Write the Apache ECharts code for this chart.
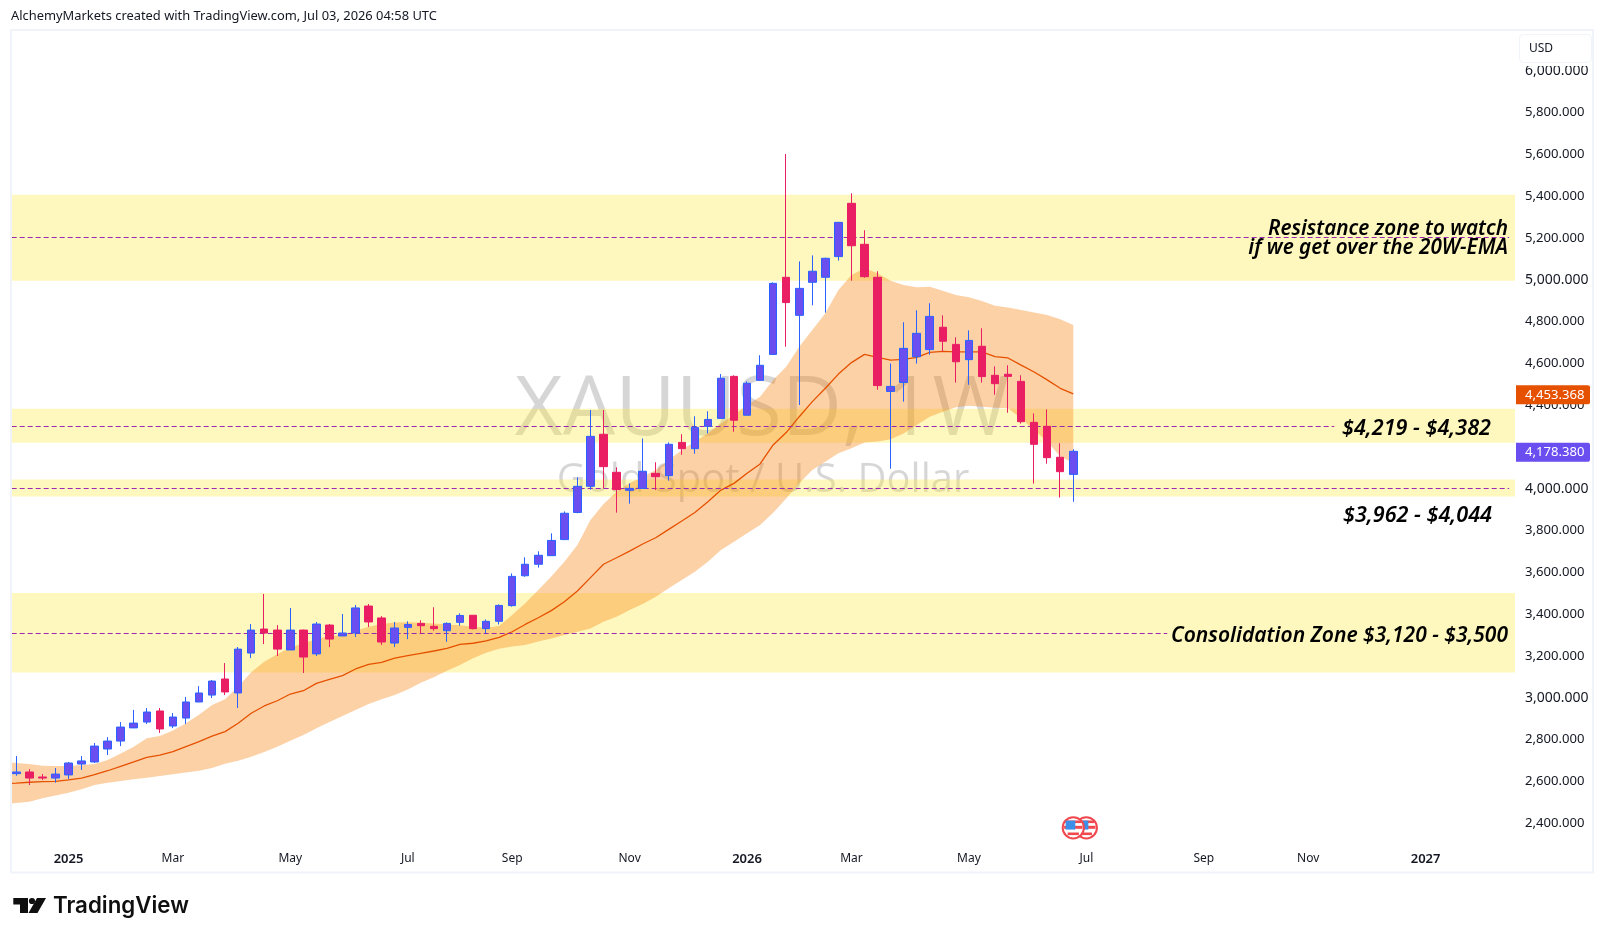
<!DOCTYPE html>
<html>
<head>
<meta charset="utf-8">
<title>XAUUSD weekly</title>
<script src="https://cdn.jsdelivr.net/npm/echarts@6/dist/echarts.min.js"></script>
<style>html,body{margin:0;padding:0;background:#fff}#chart{width:1605px;height:939px}</style>
</head>
<body>
<div id="chart"></div>
<script>
// Weekly candles, one entry per week
const open = [2636,2644,2620,2615,2630,2682,2692,2754,2792,2855,2883,2936,2864,2902,2979,3012,3089,3022,3213,3328,3323,3228,3323,3209,3347,3295,3309,3438,3381,3261,
  3336,3355,3341,3320,3360,3394,3330,3365,3440,3583,3638,3679,3756,3886,4011,4260,4078,3992,4001,4073,4062,4221,4191,4298,
  4336,4537,4351,4518,4642,5011,4829,4987,5011,5110,5365,5169,5011,4465,4508,4631,4665,4772,4690,4617,4681,4542,4547,4513,4317,4298,4150,4068];
const close = [2644,2615,2615,2634,2687,2697,2768,2792,2859,2878,2931,2850,2907,2979,3022,3079,3027,3232,3323,3309,3232,3323,3194,3352,3280,3309,3429,3362,3266,3333,
  3350,3344,3330,3355,3393,3330,3365,3441,3580,3638,3681,3752,3882,4011,4250,4105,3995,4001,4083,4057,4212,4191,4293,4331,
  4528,4327,4504,4590,4982,4890,4958,5040,5102,5274,5162,5014,4493,4489,4671,4743,4824,4705,4607,4709,4536,4502,4537,4320,4212,4148,4081,4178.38];
const low = [2626,2582,2606,2593,2610,2654,2687,2725,2768,2854,2874,2831,2854,2874,2979,2998,3012,2950,3189,3256,3199,3228,3118,3199,3242,3295,3290,3338,3252,3242,
  3280,3307,3320,3267,3344,3326,3307,3350,3435,3578,3622,3679,3755,3882,3995,4001,3885,3928,4001,3993,4038,4162,4167,4264,
  4336,4272,4351,4518,4642,4679,4400,4877,4842,5091,4995,5009,4473,4095,4416,4598,4641,4657,4507,4497,4507,4449,4363,4311,4024,4119,3957,3937];
const high = [2720,2658,2634,2663,2692,2720,2783,2811,2883,2941,2950,2950,2926,3003,3055,3084,3165,3242,3352,3496,3347,3429,3325,3362,3352,3400,3443,3448,3390,3362,
  3365,3370,3432,3360,3403,3394,3374,3446,3594,3671,3700,3786,3891,4054,4376,4376,4102,4025,4240,4126,4221,4260,4346,4370,
  4548,4542,4513,4638,4987,5601,5087,5116,5105,5274,5413,5236,5040,4599,4796,4853,4887,4829,4724,4757,4767,4585,4590,4542,4360,4379,4217,4188];

// 20-week EMA and its envelope, starting one week before the first candle
const emaMid = [2588,2591,2595,2598,2599,2606,2615,2631,2650,2671,2692,2714,2725,2741,2765,2789,2816,2837,2877,2925,2960,2985,3017,3033,3068,3087,3105,3137,3159,3169,3189,
  3201,3212,3223,3236,3255,3260,3271,3288,3315,3350,3382,3416,3459,3510,3574,3638,3669,3701,3735,3765,3805,3845,3886,
  3937,3993,4025,4073,4118,4209,4268,4344,4416,4480,4548,4603,4642,4628,4615,4618,4628,4652,4657,4654,4654,4654,4631,4625,4591,4558,4520,4480,4453.368];
const emaUpper = [2693,2687,2682,2674,2673,2673,2677,2682,2701,2733,2765,2805,2816,2842,2877,2918,2965,2992,3052,3121,3172,3207,3240,3260,3279,3295,3300,3320,3339,3352,3359,
  3360,3358,3355,3350,3346,3339,3334,3342,3395,3451,3515,3579,3650,3730,3850,3926,3985,4025,4057,4089,4137,4185,4225,
  4264,4312,4352,4400,4440,4520,4583,4679,4759,4839,4950,5022,5054,5030,4995,4974,4963,4966,4947,4926,4915,4898,4875,4866,4855,4843,4831,4810,4783];
const emaLower = [2488,2496,2502,2518,2531,2545,2561,2582,2593,2601,2609,2617,2625,2633,2641,2650,2663,2684,2698,2717,2740,2765,2794,2821,2853,2883,2912,2941,2969,2992,3012,
  3039,3071,3097,3129,3156,3188,3215,3234,3244,3252,3268,3283,3299,3315,3331,3363,3387,3419,3448,3483,3523,3563,3602,
  3650,3706,3746,3786,3826,3885,3953,4025,4089,4129,4169,4193,4220,4225,4236,4264,4304,4344,4368,4389,4397,4392,4387,4384,4336,4280,4225,4153,4124];

// Price zones and the dashed level drawn through each
const zoneBottoms = [4995, 4219, 3962, 3120];
const zoneTops = [5406, 4382, 4044, 3500];
const zoneLevels = [5201.5, 4297, 4000, 3306.7];
const zoneLevelEnds = [114.4, 101, 114.4, 88.2];

// Axis ticks
const priceTicks = [2400,2600,2800,3000,3200,3400,3600,3800,4000,4400,4600,4800,5000,5200,5400,5600,5800,6000];
const majorPrices = [3000, 4000, 5000, 6000];
const timeTickWeeks = [4,12,21,30,38,47,56,64,73,82,91,99,108];
const timeTickLabels = ['2025','Mar','May','Jul','Sep','Nov','2026','Mar','May','Jul','Sep','Nov','2027'];
const yearLabels = ['2025','2026','2027'];

// Last-value tags on the price scale
const lastEma = 4453.368;
const lastClose = 4178.38;
// Economic-calendar markers
const eventWeeks = [82, 81];
const eventPrice = 2377;

// Chart notes: text, right edge, vertical centre, size
const annotations = [
  ['Resistance zone to watch', 1508, 229, 20.7],
  ['if we get over the 20W-EMA', 1508, 248.5, 20.7],
  ['$4,219 - $4,382', 1491, 429, 21.6],
  ['$3,962 - $4,044', 1492, 515.5, 21.6],
  ['Consolidation Zone $3,120 - $3,500', 1508, 636, 21]
];

const weekMin = -0.355, weekMax = 114.85;
const priceMin = 2294.7, priceMax = 6194.3;
const uiFont = '"Noto Sans", sans-serif';
const noteFont = '"Noto Sans", "Open Sans", sans-serif';

const candles = open.map((o, i) => [i, o, close[i], low[i], high[i]]);
const emaPoints = emaMid.map((v, i) => [i - 1, v]);
const fmtPrice = v => v.toLocaleString('en-US', {minimumFractionDigits: 3, maximumFractionDigits: 3});

const chart = echarts.init(document.getElementById('chart'), null, {renderer: 'canvas'});

// Fills the EMA envelope as one polygon through the axis scales
function renderCloud(params, api) {
  if (params.dataIndex !== emaUpper.length - 1) return null;
  const pts = [];
  emaUpper.forEach((v, i) => pts.push(api.coord([i - 1, v])));
  for (let i = emaLower.length - 1; i >= 0; i--) pts.push(api.coord([i - 1, emaLower[i]]));
  return {type: 'polygon', shape: {points: pts}, style: {fill: 'rgba(245,124,0,0.35)'}};
}

// Coloured tag on the price scale at a series' last value
function renderTag(params, api) {
  const p = api.coord([weekMax, api.value(0)]);
  const color = params.dataIndex === 0 ? '#E65100' : '#6B4EEF';
  return {type: 'group', children: [
    {type: 'rect', shape: {x: p[0] + 1, y: p[1] - 8.5, width: 74, height: 19, r: [0, 2, 2, 0]}, style: {fill: color}},
    {type: 'text', style: {x: p[0] + 10, y: p[1] + 1, text: fmtPrice(api.value(0)), fill: '#fff', font: '13.1px ' + uiFont, verticalAlign: 'middle', textAlign: 'left'}}
  ]};
}

// Small round flag marking a calendar event
function renderEvent(params, api) {
  const p = api.coord([api.value(0), api.value(1)]);
  const r = 9.2;
  const chord = d => Math.sqrt(r * r - d * d);
  const stripe = (d, h) => ({type: 'rect', shape: {x: -chord(d + h / 2), y: d - h / 2, width: 2 * chord(d + h / 2), height: h}, style: {fill: '#F0484E'}});
  return {type: 'group', x: p[0], y: p[1], children: [
    {type: 'circle', shape: {cx: 0, cy: 0, r: 10.6}, style: {fill: '#fff', stroke: '#F0484E', lineWidth: 2}},
    stripe(-6, 2.6), stripe(-0.5, 3), stripe(6, 2.6),
    {type: 'rect', shape: {x: -7.6, y: -7.2, width: 9.6, height: 9}, style: {fill: '#3B8FE8'}}
  ]};
}

const gfx = [
  // Symbol watermark behind everything
  {type: 'text', z: 0, x: 762, y: 411, style: {text: 'XAUUSD, 1W', font: '83px "Open Sans", sans-serif', fill: 'rgba(0,0,0,0.16)', textAlign: 'center', textVerticalAlign: 'middle'}},
  {type: 'text', z: 0, x: 763, y: 481, style: {text: 'Gold Spot / U.S. Dollar', font: '40px "Open Sans", sans-serif', fill: 'rgba(0,0,0,0.16)', textAlign: 'center', textVerticalAlign: 'middle'}},
  // Header line
  {type: 'text', z: 60, x: 11, y: 16, style: {text: 'AlchemyMarkets created with TradingView.com, Jul 03, 2026 04:58 UTC', font: '12.9px ' + uiFont, fill: '#131722', textVerticalAlign: 'middle'}},
  // Pane frame
  {type: 'rect', z: 60, shape: {x: 11, y: 30, width: 1582, height: 842.5}, style: {fill: 'none', stroke: '#F0F3FA', lineWidth: 2}},
  // Currency button over the scale
  {type: 'rect', z: 55, shape: {x: 1517, y: 32, width: 75, height: 34}, style: {fill: '#fff'}},
  {type: 'rect', z: 56, shape: {x: 1519.5, y: 34.5, width: 72, height: 28, r: 4}, style: {fill: '#fff', stroke: '#F0F3FA', lineWidth: 1}},
  {type: 'text', z: 57, x: 1529, y: 48.5, style: {text: 'USD', font: '12px ' + uiFont, fill: '#131722', textVerticalAlign: 'middle'}},
  // Brand mark and wordmark
  {type: 'polygon', z: 60, shape: {points: [[13.3, 898], [28, 898], [28, 913], [20, 913], [20, 904.5], [13.3, 904.5]]}, style: {fill: '#0F0F0F'}},
  {type: 'circle', z: 60, shape: {cx: 32, cy: 901, r: 3.1}, style: {fill: '#0F0F0F'}},
  {type: 'polygon', z: 60, shape: {points: [[37, 898], [46, 898], [37.5, 913], [28.5, 913]]}, style: {fill: '#0F0F0F'}},
  {type: 'text', z: 60, x: 53, y: 906, style: {text: 'TradingView', font: '600 22.3px Inter, sans-serif', fill: '#0F0F0F', textVerticalAlign: 'middle'}}
];
annotations.forEach(a => gfx.push({type: 'text', z: 50, x: a[1], y: a[2], style: {
  text: a[0], font: 'italic 600 ' + a[3] + 'px ' + noteFont, fill: '#000', textAlign: 'right', textVerticalAlign: 'middle'
}}));

chart.setOption({
  animation: false,
  grid: {left: 11.67, top: 30, width: 1503.33, height: 815, containLabel: false},
  xAxis: {
    type: 'value', min: weekMin, max: weekMax,
    axisLine: {show: false}, axisTick: {show: false}, splitLine: {show: false},
    axisLabel: {
      customValues: timeTickWeeks, margin: 8, color: '#131722', fontFamily: uiFont, fontSize: 12,
      formatter: v => {
        const t = timeTickLabels[timeTickWeeks.indexOf(v)];
        return yearLabels.includes(t) ? '{y|' + t + '}' : t;
      },
      rich: {y: {fontWeight: 600, fontSize: 13, color: '#131722', fontFamily: uiFont}}
    }
  },
  yAxis: {
    type: 'value', position: 'right', min: priceMin, max: priceMax, scale: true,
    axisLine: {show: false}, axisTick: {show: false}, splitLine: {show: false},
    axisLabel: {
      customValues: priceTicks, margin: 10, color: '#131722', fontFamily: uiFont, fontSize: 13.1, align: 'left',
      formatter: v => majorPrices.includes(v) ? '{m|' + fmtPrice(v) + '}' : fmtPrice(v),
      rich: {m: {fontSize: 14, color: '#131722', fontFamily: uiFont}}
    }
  },
  graphic: {elements: gfx},
  series: [
    {
      name: 'zones', type: 'line', z: 1, data: [], silent: true,
      markArea: {
        silent: true, itemStyle: {color: 'rgba(255,235,59,0.33)'},
        data: zoneBottoms.map((b, i) => [{xAxis: weekMin, yAxis: b}, {xAxis: weekMax, yAxis: zoneTops[i]}])
      }
    },
    {
      name: 'EMA envelope', type: 'custom', z: 2, clip: true, silent: true,
      data: emaUpper.map((v, i) => [i - 1, v]), encode: {x: 0, y: 1}, renderItem: renderCloud
    },
    {
      name: 'levels', type: 'line', z: 3, data: [], silent: true,
      markLine: {
        silent: true, symbol: 'none', label: {show: false},
        lineStyle: {color: '#9C27B0', type: [5, 3], width: 1},
        data: zoneLevels.map((v, i) => [{xAxis: weekMin, yAxis: v}, {xAxis: zoneLevelEnds[i], yAxis: v}])
      }
    },
    {
      name: 'EMA 20', type: 'line', z: 4, data: emaPoints, showSymbol: false, silent: true,
      lineStyle: {color: '#E65100', width: 1.3}
    },
    {
      name: 'XAUUSD', type: 'candlestick', z: 5, data: candles, encode: {x: 0, y: [1, 2, 3, 4]},
      barWidth: 8, silent: true,
      itemStyle: {color: '#6B4EEF', color0: '#E91E63', borderColor: '#2962FF', borderColor0: '#E91E63', borderWidth: 1}
    },
    {
      name: 'last values', type: 'custom', z: 20, silent: true, clip: false,
      data: [[lastEma], [lastClose]], encode: {y: 0}, renderItem: renderTag
    },
    {
      name: 'events', type: 'custom', z: 6, silent: true, clip: false,
      data: eventWeeks.map(w => [w, eventPrice]), encode: {x: 0, y: 1}, renderItem: renderEvent
    }
  ]
});
</script>
</body>
</html>
